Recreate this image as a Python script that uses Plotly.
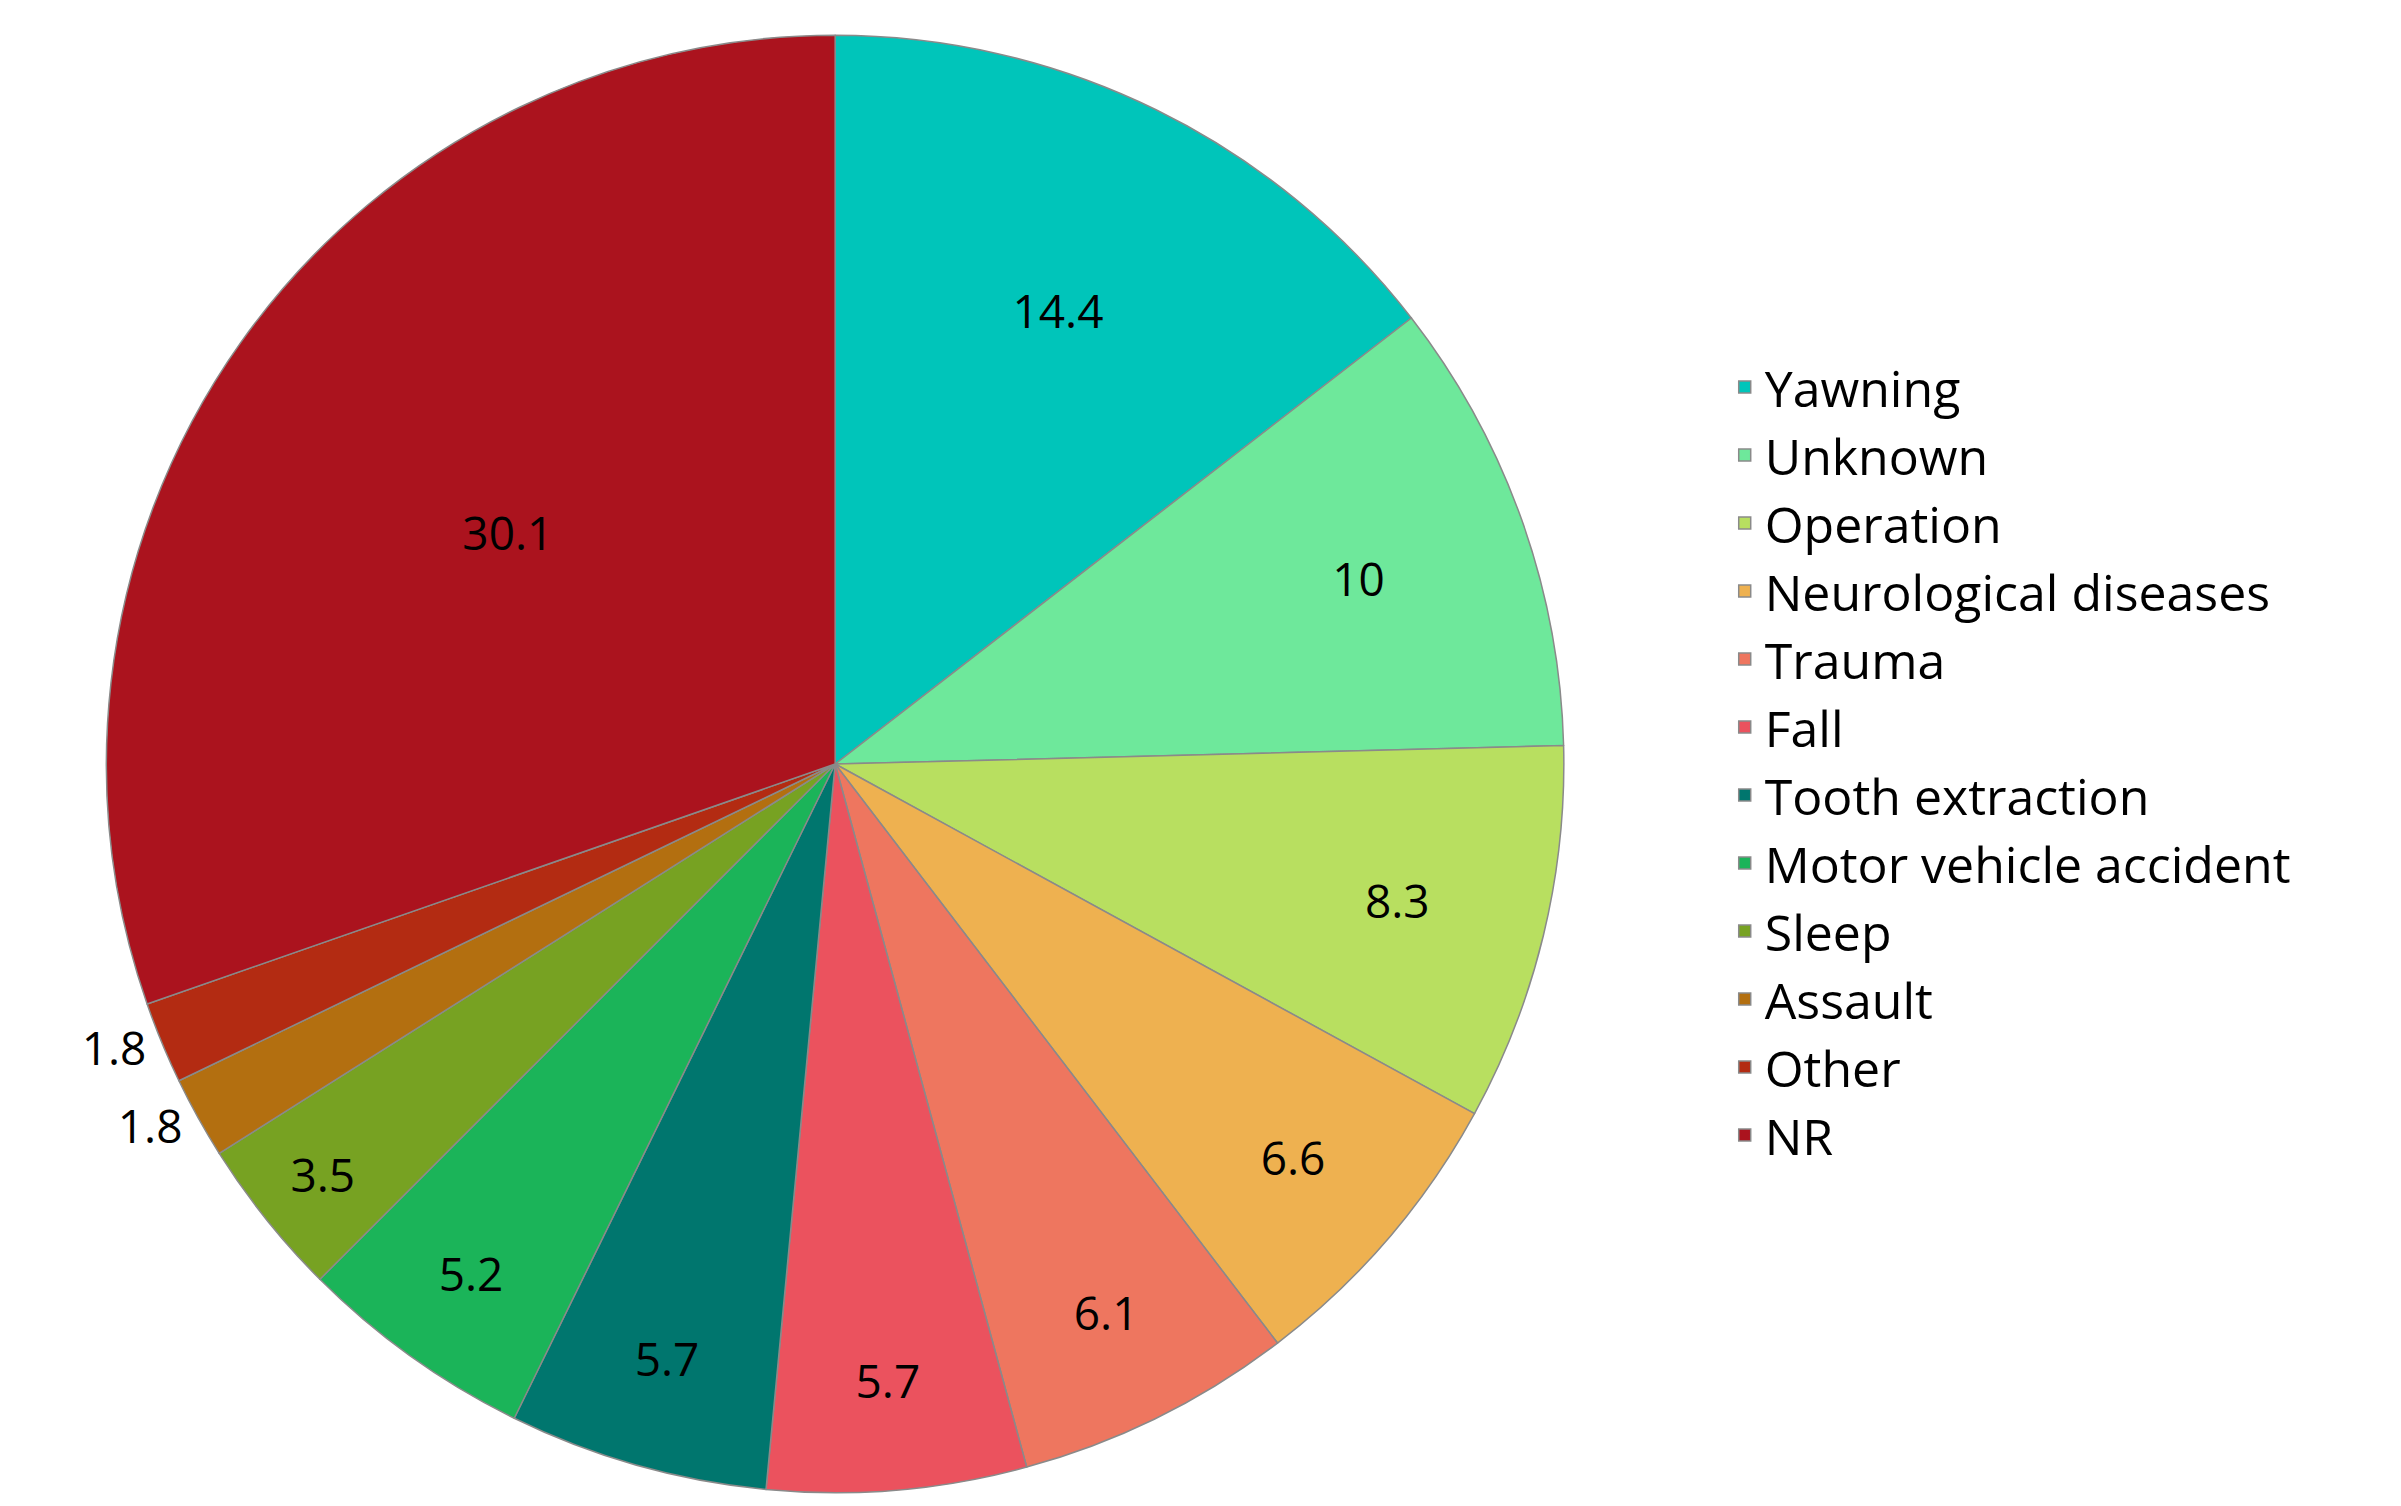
import plotly.graph_objects as go

causes = ["Yawning", "Unknown", "Operation", "Neurological diseases", "Trauma", "Fall",
          "Tooth extraction", "Motor vehicle accident", "Sleep", "Assault", "Other", "NR"]
shares = [14.4, 10, 8.3, 6.6, 6.1, 5.7, 5.7, 5.2, 3.5, 1.8, 1.8, 30.1]
labels_txt = ["14.4", "10", "8.3", "6.6", "6.1", "5.7", "5.7", "5.2", "3.5", "1.8", "1.8", "30.1"]
colors = ["#00C5BA", "#6EE89B", "#B8DF60", "#EEB150", "#EE765F", "#EB525E",
          "#00766E", "#1BB459", "#77A222", "#B36F10", "#B32B12", "#AB131E"]

text_pos = ["inside"] * 9 + ["outside", "outside", "inside"]

fig = go.Figure(go.Pie(
    labels=causes, values=shares, text=labels_txt, textinfo="text",
    sort=False, direction="clockwise", rotation=0,
    marker=dict(colors=colors, line=dict(color="#8a8a8a", width=1.5)),
    textposition=text_pos, insidetextorientation="horizontal",
    textfont=dict(color="black", size=46, family="Open Sans"),
    domain=dict(x=[0.041, 0.648], y=[0.014, 0.982]),
    hoverinfo="label+text",
))

fig.update_layout(
    width=2401, height=1506, paper_bgcolor="white",
    margin=dict(l=0, r=0, t=0, b=0),
    font=dict(family="Open Sans", color="black"),
    legend=dict(x=0.715, y=0.5, yanchor="middle", xanchor="left",
                font=dict(size=50), itemwidth=30),
    uniformtext=dict(minsize=46, mode="show"),
)

fig.write_html("out.html")
